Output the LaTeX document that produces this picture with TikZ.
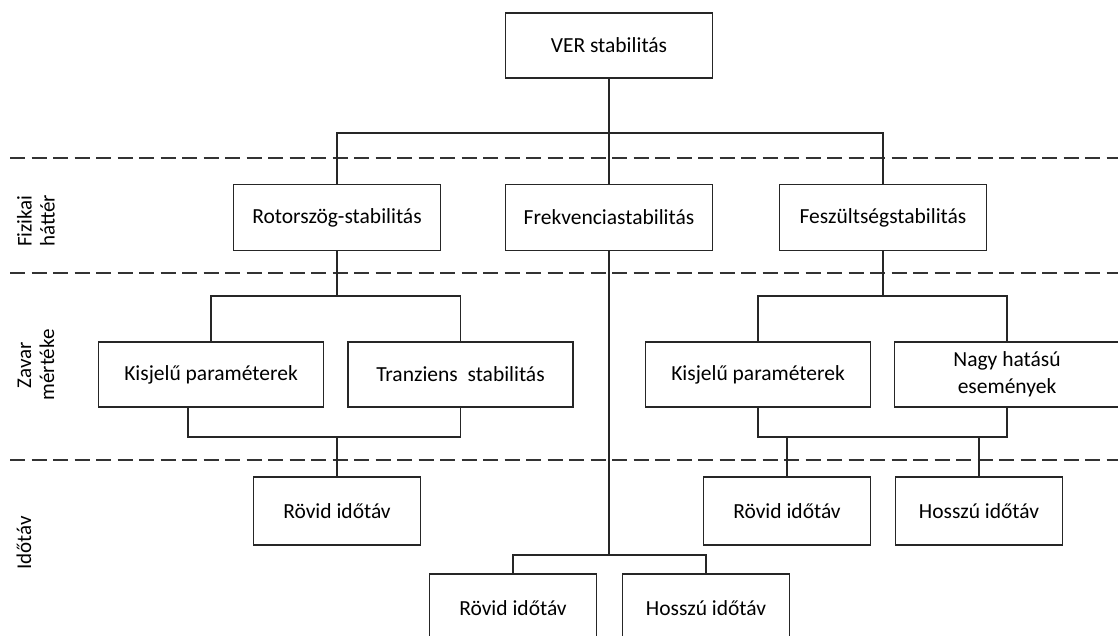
\documentclass[tikz,border=0pt]{standalone}
\usepackage{fontspec}
\setmainfont{Carlito}
\begin{document}
\begin{tikzpicture}[x=1pt,y=-1pt,
  box/.style={draw=black!85, line width=1.8pt, rectangle, inner sep=0pt, align=center,
    font=\fontsize{21.5}{27}\selectfont, text=black},
  wide/.style={box, minimum width=207pt, minimum height=66pt},
  mid/.style={box, minimum width=225pt, minimum height=65pt},
  small/.style={box, minimum width=167pt, minimum height=68pt},
  conn/.style={draw=black!85, line width=1.8pt},
  sep/.style={draw=black!80, line width=2pt, dash pattern=on 15pt off 6.5pt},
  side/.style={rotate=90, align=center, font=\fontsize{21}{23}\selectfont, text=black}]
\useasboundingbox (0,0) rectangle (1118,636);
\clip (0,0) rectangle (1118,636);

% separators
\coordinate (s1a) at (10,158); \coordinate (s1b) at (1118,158);
\coordinate (s2a) at (10,273); \coordinate (s2b) at (1118,273);
\coordinate (s3a) at (10,460); \coordinate (s3b) at (1118,460);
\draw[sep] (s1a) -- (s1b);
\draw[sep] (s2a) -- (s2b);
\draw[sep] (s3a) -- (s3b);

% side labels
\node[side] (lab1) at (36,221) {Fizikai\\háttér};
\node[side] (lab2) at (36,365) {Zavar\\mértéke};
\node[side] (lab3) at (24,543) {Időtáv};

% nodes
\node[wide, minimum height=65pt] (ver) at (609,45.5) {VER stabilitás};
\node[wide] (rot) at (337,217.5) {Rotorszög-stabilitás};
\node[wide] (freq) at (609,217.5) {Frekvenciastabilitás};
\node[wide] (fesz) at (883,217.5) {Feszültségstabilitás};

\node[mid] (kis1) at (211,374.5) {Kisjelű paraméterek};
\node[mid] (tran) at (460.5,374.5) {Tranziens\ \ stabilitás};
\node[mid] (kis2) at (758,374.5) {Kisjelű paraméterek};
\node[mid] (nagy) at (1007,374.5) {Nagy hatású\\események};

\node[small] (rov1) at (337,511) {Rövid időtáv};
\node[small] (rov2) at (787,511) {Rövid időtáv};
\node[small] (hos2) at (979,511) {Hosszú időtáv};

\node[small] (rov3) at (513,608) {Rövid időtáv};
\node[small] (hos3) at (706,608) {Hosszú időtáv};

% junctions
\coordinate (j1) at (609,133);
\coordinate (j2) at (337,296);
\coordinate (j3) at (337,437);
\coordinate (b1) at (188,437);
\coordinate (j4) at (883,296);
\coordinate (j5) at (787,437);
\coordinate (j6) at (979,437);
\coordinate (b2) at (1007,437);
\coordinate (j7) at (609,555);

% connectors
\draw[conn] (ver.south) -- (freq.north);
\draw[conn] (rot.north) |- (j1) -| (fesz.north);

\draw[conn] (rot.south) -- (j2);
\draw[conn] (kis1.north) |- (j2) -| (tran.north);
\draw[conn] (kis1.south -| b1) -- (b1) -| (tran.south);
\draw[conn] (j3) -- (rov1.north);

\draw[conn] (fesz.south) -- (j4);
\draw[conn] (kis2.north) |- (j4) -| (nagy.north);
\draw[conn] (kis2.south) |- (b2) -- (nagy.south);
\draw[conn] (j5) -- (rov2.north);
\draw[conn] (j6) -- (hos2.north);

\draw[conn] (freq.south) -- (j7);
\draw[conn] (rov3.north) |- (j7) -| (hos3.north);
\end{tikzpicture}
\end{document}
